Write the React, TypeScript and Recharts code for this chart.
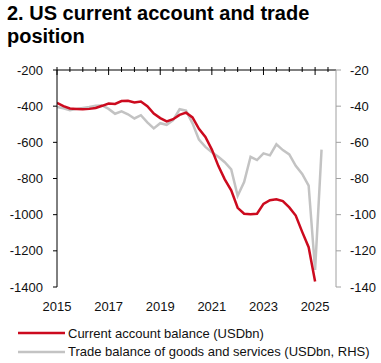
import { LineChart, Line, XAxis, YAxis, Legend } from "recharts";

const caYears = [
  2015, 2015.25, 2015.5, 2015.75, 2016, 2016.25, 2016.5, 2016.75,
  2017, 2017.25, 2017.5, 2017.75, 2018, 2018.25, 2018.5, 2018.75,
  2019, 2019.25, 2019.5, 2019.75, 2020, 2020.25, 2020.5, 2020.75,
  2021, 2021.25, 2021.5, 2021.75, 2022, 2022.25, 2022.5, 2022.75,
  2023, 2023.25, 2023.5, 2023.75, 2024, 2024.25, 2024.5, 2024.75, 2025,
];
const caValues = [
  -382, -400, -413, -415, -417, -415, -410, -398,
  -385, -388, -372, -370, -380, -374, -400, -441,
  -466, -484, -472, -448, -436, -462, -525, -570,
  -640, -730, -805, -865, -962, -995, -997, -995,
  -940, -920, -915, -925, -960, -1005, -1095, -1180, -1370,
];

const tbYears = [
  2015, 2015.25, 2015.5, 2015.75, 2016, 2016.25, 2016.5, 2016.75,
  2017, 2017.25, 2017.5, 2017.75, 2018, 2018.25, 2018.5, 2018.75,
  2019, 2019.25, 2019.5, 2019.75, 2020, 2020.25, 2020.5, 2020.75,
  2021, 2021.25, 2021.5, 2021.75, 2022, 2022.25, 2022.5, 2022.75,
  2023, 2023.25, 2023.5, 2023.75, 2024, 2024.25, 2024.5, 2024.75,
  2025, 2025.25,
];
const tbValues = [
  -40.4, -41.2, -42.2, -41.5, -41, -40.5, -39.8, -39.6,
  -41.5, -44.2, -42.9, -44.5, -46.8, -45, -49, -52.3,
  -49.4, -50.3, -47.7, -41.7, -42.5, -49.5, -58.5, -62.5,
  -65.5, -68, -71, -75, -89.5, -82, -68, -69.8,
  -66.1, -67.2, -61.1, -64.3, -66.7, -73, -77.5, -84,
  -130.5, -64,
];

const yearTicks = [2015, 2017, 2019, 2021, 2023, 2025];
const halfYearTicks = [
  2015, 2015.5, 2016, 2016.5, 2017, 2017.5, 2018, 2018.5, 2019, 2019.5,
  2020, 2020.5, 2021, 2021.5, 2022, 2022.5, 2023, 2023.5, 2024, 2024.5,
  2025, 2025.5,
];
const leftTicks = [-1400, -1200, -1000, -800, -600, -400, -200];
const rightTicks = [-140, -120, -100, -80, -60, -40, -20];

const caData = caYears.map((x, i) => ({ x, v: caValues[i] }));
const tbData = tbYears.map((x, i) => ({ x, v: tbValues[i] }));

const xDomain = [2015, 2025.81];

const TopTick = (props: any) => {
  const { x, y, payload } = props;
  const major = yearTicks.includes(payload.value);
  return (
    <line x1={x} x2={x} y1={y - 3} y2={y + (major ? 5 : 2)} stroke="#000" strokeWidth={1} />
  );
};

const LegendBox = (props: any) => {
  const { payload } = props;
  return (
    <div>
      {(payload || []).map((p: any) => (
        <div key={p.value} style={{ display: "flex", alignItems: "center", height: 18.4 }}>
          <svg width={50} height={6}>
            <line x1={0} x2={47} y1={3} y2={3} stroke={p.color} strokeWidth={2.5} />
          </svg>
          <span style={{ fontSize: 13, color: "#111", marginLeft: 0 }}>{p.value}</span>
        </div>
      ))}
    </div>
  );
};

const App = () => {
  return (
    <div
      style={{
        position: "absolute",
        left: 0,
        top: 0,
        width: 381,
        height: 363,
        background: "#fff",
        fontFamily: "Arial, 'Liberation Sans', sans-serif",
      }}
    >
      <div
        style={{
          position: "absolute",
          left: 7,
          top: 1.5,
          width: 340,
          fontSize: 20,
          lineHeight: "23px",
          fontWeight: "bold",
          color: "#000",
        }}
      >
        2. US current account and trade position
      </div>
      <LineChart
        width={381}
        height={363}
        margin={{ top: 0, right: 0, bottom: 46, left: 0 }}
        style={{ position: "absolute", left: 0, top: 0 }}
      >
        <XAxis
          xAxisId="t"
          orientation="top"
          type="number"
          dataKey="x"
          domain={xDomain}
          allowDataOverflow
          ticks={halfYearTicks}
          interval={0}
          height={70}
          axisLine={{ stroke: "#000" }}
          tickLine={false}
          tickSize={0}
          tickMargin={0}
          tick={(p: any) => <TopTick {...p} />}
        />
        <XAxis
          xAxisId="b"
          type="number"
          dataKey="x"
          domain={xDomain}
          allowDataOverflow
          ticks={yearTicks}
          interval={0}
          height={30}
          axisLine={false}
          tickLine={false}
          tickSize={0}
          tickMargin={15}
          tick={{ fill: "#111", fontSize: 13 }}
        />
        <YAxis
          yAxisId="left"
          domain={[-1400, -200]}
          ticks={leftTicks}
          interval={0}
          width={57}
          tickSize={4}
          tickMargin={10}
          axisLine={{ stroke: "#000" }}
          tickLine={{ stroke: "#000" }}
          tick={{ fill: "#111", fontSize: 13 }}
        />
        <YAxis
          yAxisId="right"
          orientation="right"
          domain={[-140, -20]}
          ticks={rightTicks}
          interval={0}
          width={45}
          tickSize={5}
          tickMargin={9}
          axisLine={{ stroke: "#a0a0a0" }}
          tickLine={{ stroke: "#a0a0a0" }}
          tick={{ fill: "#111", fontSize: 13 }}
        />
        <Legend
          layout="horizontal"
          verticalAlign="middle"
          align="center"
          wrapperStyle={{ top: 324, left: 18, width: 363 }}
          content={(p: any) => <LegendBox {...p} />}
        />
        <Line
          data={tbData}
          dataKey="v"
          name="Trade balance of goods and services (USDbn, RHS)"
          xAxisId="b"
          yAxisId="right"
          type="linear"
          stroke="#c3c3c3"
          strokeWidth={2.5}
          dot={false}
          isAnimationActive={false}
        />
        <Line
          data={caData}
          dataKey="v"
          name="Current account balance (USDbn)"
          xAxisId="b"
          yAxisId="left"
          type="linear"
          stroke="#cc0a1e"
          strokeWidth={2.5}
          dot={false}
          isAnimationActive={false}
        />
      </LineChart>
    </div>
  );
};

export default App;
